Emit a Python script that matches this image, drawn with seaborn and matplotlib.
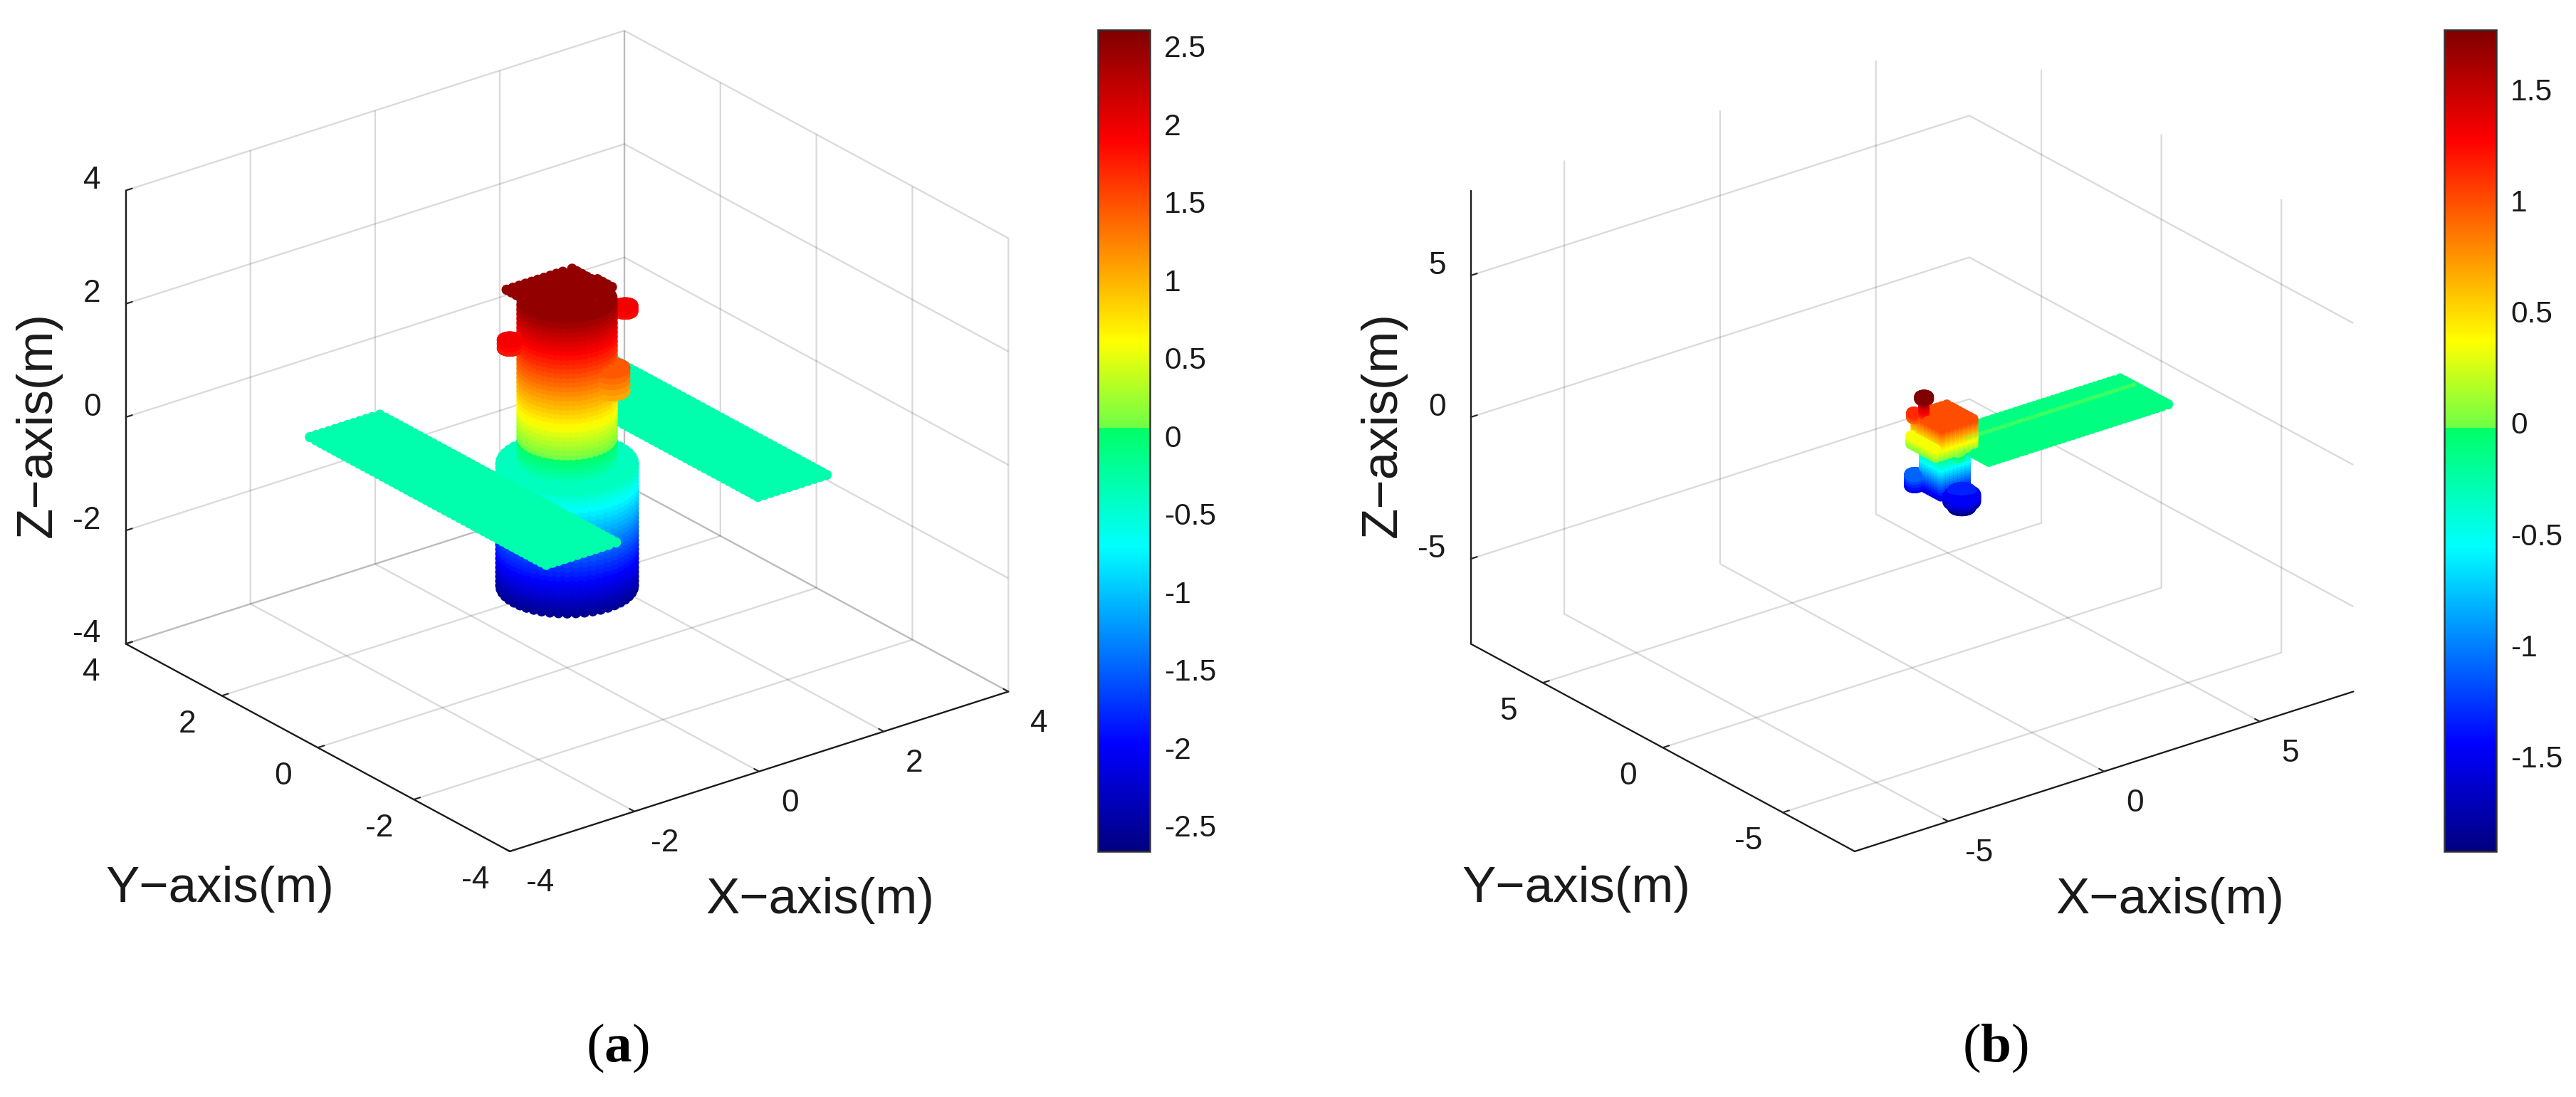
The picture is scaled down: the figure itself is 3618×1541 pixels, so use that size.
import numpy as np
import matplotlib

matplotlib.use("Agg")
import matplotlib.pyplot as plt
import seaborn as sns
from matplotlib.cm import ScalarMappable
from matplotlib.colors import LinearSegmentedColormap, Normalize
from mpl_toolkits.mplot3d import proj3d

# colorbar: jet-like map with the step near the middle
CMAP_POS = [0.0, 0.13, 0.371, 0.516, 0.5161, 0.622, 0.744, 0.866, 1.0]
CMAP_COL = ["#000080", "#0000ff", "#00ffff", "#00ff64", "#6eff46", "#ffff00", "#ff8000", "#ff0000", "#800000"]

A_LIMS = (-4, 4)
A_TICKS = [-4, -2, 0, 2, 4]
A_TICKLABELS = ["-4", "-2", "0", "2", "4"]
A_CLIM = (-2.665, 2.605)
A_CTICKS = [-2.5, -2, -1.5, -1, -0.5, 0, 0.5, 1, 1.5, 2, 2.5]
A_CLABELS = ["-2.5", "-2", "-1.5", "-1", "-0.5", "0", "0.5", "1", "1.5", "2", "2.5"]

B_LIMS = (-8, 8)
B_TICKS = [-5, 0, 5]
B_TICKLABELS = ["-5", "0", "5"]
B_CLIM = (-1.926, 1.766)
B_CTICKS = [-1.5, -1, -0.5, 0, 0.5, 1, 1.5]
B_CLABELS = ["-1.5", "-1", "-0.5", "0", "0.5", "1", "1.5"]

RING_X = [1.0, 0.991, 0.966, 0.924, 0.866, 0.793, 0.707, 0.609, 0.5, 0.383, 0.259, 0.131,
          0.0, -0.131, -0.259, -0.383, -0.5, -0.609, -0.707, -0.793, -0.866, -0.924, -0.966, -0.991,
          -1.0, -0.991, -0.966, -0.924, -0.866, -0.793, -0.707, -0.609, -0.5, -0.383, -0.259, -0.131,
          0.0, 0.131, 0.259, 0.383, 0.5, 0.609, 0.707, 0.793, 0.866, 0.924, 0.966, 0.991]
RING_Y = [0.0, 0.131, 0.259, 0.383, 0.5, 0.609, 0.707, 0.793, 0.866, 0.924, 0.966, 0.991,
          1.0, 0.991, 0.966, 0.924, 0.866, 0.793, 0.707, 0.609, 0.5, 0.383, 0.259, 0.131,
          0.0, -0.131, -0.259, -0.383, -0.5, -0.609, -0.707, -0.793, -0.866, -0.924, -0.966, -0.991,
          -1.0, -0.991, -0.966, -0.924, -0.866, -0.793, -0.707, -0.609, -0.5, -0.383, -0.259, -0.131]
A_UPPER_R = [0.58]
A_UPPER_Z = [-0.4, -0.32, -0.24, -0.16, -0.08, 0.0, 0.08, 0.16, 0.24, 0.32, 0.4, 0.48, 0.56, 0.64, 0.72,
             0.8, 0.88, 0.96, 1.04, 1.12, 1.2, 1.28, 1.36, 1.44, 1.52, 1.6, 1.68, 1.76, 1.84, 1.92,
             2.0, 2.08, 2.16, 2.24, 2.32, 2.4, 2.5]
A_LOWER_R = [0.85]
A_LOWER_Z = [-2.55, -2.47, -2.39, -2.31, -2.23, -2.15, -2.07, -1.99, -1.91, -1.83, -1.75, -1.67, -1.59,
             -1.51, -1.43, -1.35, -1.27, -1.19, -1.11, -1.03, -0.95, -0.87, -0.79, -0.71, -0.63, -0.55,
             -0.47, -0.4]
A_TOP_R = [0.15, 0.3, 0.45]
A_TOP_Z = [2.5]
A_SHELF_R = [0.45, 0.6, 0.72]
A_SHELF_Z = [-0.4]

# (a) solar panels
A_NEAR_X = [-2.2, -2.1, -2.0, -1.9, -1.8, -1.7, -1.6, -1.5, -1.4, -1.3, -1.2, -1.08]
A_FAR_X = [1.2, 1.3, 1.4, 1.5, 1.6, 1.7, 1.8, 1.9, 2.0, 2.1, 2.2, 2.3]
A_PANEL_Y = [-2.42, -2.32, -2.22, -2.12, -2.02, -1.92, -1.82, -1.72, -1.62, -1.52, -1.42, -1.32, -1.22,
             -1.12, -1.02, -0.92, -0.82, -0.72, -0.62, -0.52, -0.42, -0.32, -0.22, -0.12, -0.02, 0.08,
             0.18, 0.28, 0.38, 0.48, 0.58, 0.68, 0.78, 0.88, 0.98, 1.08, 1.18, 1.28, 1.38, 1.48, 1.58,
             1.68, 1.78, 1.88, 1.98, 2.08, 2.18, 2.28, 2.38, 2.5]
A_PANEL_Z = [-0.3]

# (a) top plate and small lumps
A_PLATE1_X = [-0.43, -0.33, -0.23, -0.13, -0.03, 0.07, 0.17, 0.27, 0.37, 0.47, 0.62]
A_PLATE1_Y = [0.2, 0.3, 0.4, 0.5, 0.6, 0.7]
A_PLATE2_X = [0.2, 0.3, 0.4, 0.5, 0.6, 0.68]
A_PLATE2_Y = [-0.05, 0.05, 0.15, 0.25]
A_PLATE_Z = [2.5]
A_LUMP1_C = (-0.75, 0.22)
A_LUMP1_R = [0.05, 0.1]
A_LUMP1_Z = [1.8, 1.88, 1.95]
A_LUMP2_C = (1.05, 0.15)
A_LUMP2_R = [0.05, 0.1]
A_LUMP2_Z = [1.85, 1.9, 1.95]
A_LUMP3_C = (0.28, -0.57)
A_LUMP3_R = [0.08, 0.17]
A_LUMP3_Z = [1.05, 1.15, 1.25, 1.35, 1.45]

# (b) panel
B_PANEL_X = [0.9, 1.05, 1.2, 1.35, 1.5, 1.65, 1.8, 1.95, 2.1, 2.25, 2.4, 2.55, 2.7, 2.85, 3.0, 3.15, 3.3,
             3.45, 3.6, 3.75, 3.9, 4.05, 4.2, 4.35, 4.5, 4.65, 4.8, 4.95, 5.1, 5.25, 5.4, 5.55, 5.7, 5.85,
             6.0, 6.15, 6.3, 6.45, 6.65]
B_PANEL_Y = [-2.03, -1.88, -1.73, -1.58, -1.43, -1.28, -1.13, -0.98, -0.83, -0.68, -0.53, -0.38, -0.23, -0.04]
B_PANEL_Z = [-0.12]
B_SPINE_X = [1.2, 1.32, 1.44, 1.56, 1.68, 1.8, 1.92, 2.04, 2.16, 2.28, 2.4, 2.52, 2.64, 2.76, 2.88, 3.0,
             3.12, 3.24, 3.36, 3.48, 3.6, 3.72, 3.84, 3.96, 4.08, 4.2, 4.32, 4.44, 4.56, 4.68, 4.8, 4.92,
             5.04, 5.16, 5.28, 5.4, 5.52, 5.64, 5.76, 5.88, 6.0, 6.12, 6.24, 6.36, 6.48, 6.55]
B_SPINE_Y = [-0.75]
B_SPINE_Z = [0.03]

# (b) body parts, each a small stack
B_BOX_X = [0.0, 0.14, 0.28, 0.42, 0.56, 0.7, 0.84, 1.0]
B_BOX_Y = [-1.25, -1.1, -0.95, -0.8, -0.65, -0.5, -0.35, -0.15]
B_BOX_Z = [0.37, 0.45, 0.53, 0.61, 0.69, 0.77, 0.85, 0.93, 1.0]
B_COLLAR_X = [-0.2, -0.05, 0.1, 0.25, 0.4, 0.55, 0.7, 0.85, 1.0]
B_COLLAR_Y = [-1.25, -1.1, -0.95, -0.8, -0.65, -0.5, -0.35, -0.2]
B_COLLAR_Z = [0.05, 0.13, 0.21, 0.29, 0.35]
B_MID_X = [0.15, 0.28, 0.41, 0.54, 0.67, 0.8, 0.95]
B_MID_Y = [-1.0, -0.88, -0.76, -0.64, -0.52, -0.4, -0.3]
B_MID_Z = [-1.55, -1.45, -1.35, -1.25, -1.15, -1.05, -0.95, -0.85, -0.75, -0.65, -0.55, -0.45, -0.35,
           -0.25, -0.15, -0.05]
B_LOBE_C = (-0.03, -0.15)
B_LOBE_R = [0.06, 0.14]
B_LOBE_Z = [-1.5, -1.4, -1.3, -1.2, -1.1]
B_BLOB_C = (0.54, -1.37)
B_BLOB_R = [0.12, 0.24, 0.36]
B_BLOB_Z = [-1.7, -1.62, -1.54, -1.46]
B_BLOB_LOW_R = [0.1, 0.24]
B_BLOB_LOW_Z = [-1.9, -1.82, -1.76]
B_BLOB_TOP_R = [0.1, 0.25]
B_BLOB_TOP_Z = [-1.4, -1.33]
B_BUMP_C = (0.55, -1.2)
B_BUMP_R = [0.07]
B_BUMP_Z = [-0.2, -0.1, 0.0]
B_STEM_C = (0.03, -0.46)
B_STEM_R = [0.01]
B_STEM_Z = [1.0, 1.08, 1.16, 1.24, 1.32, 1.4, 1.48, 1.56, 1.62]
B_HEAD_R = [0.05, 0.12]
B_HEAD_Z = [1.68, 1.72, 1.76]
B_EAR_C = (-0.1, -0.2)
B_EAR_R = [0.06]
B_EAR_Z = [0.95, 1.05, 1.12]

W, H = 3618, 1541
# shared view read from the box corners
VIEW_ELEV, VIEW_AZIM = 24.6, -127.6
BOX_ASPECT = (884, 884, 700.6)
AX_SIDE = 1391
AX_BOTTOM = 207.2
AX_LEFT_A, AX_LEFT_B = 82.2, 1971.2
BLACK = "#1a1a1a"
TICK_SIZE = 10.6
MARKER_S = 12


def block(xs, ys, zs):
    gx, gy, gz = np.meshgrid(xs, ys, zs)
    return gx.ravel(), gy.ravel(), gz.ravel()


def rings(radii, zs, center=(0.0, 0.0)):
    gr, gz = np.meshgrid(radii, zs)
    px = np.outer(gr.ravel(), RING_X).ravel() + center[0]
    py = np.outer(gr.ravel(), RING_Y).ravel() + center[1]
    return px, py, np.repeat(gz.ravel(), len(RING_X))


def merge(parts):
    return [np.concatenate([p[i] for p in parts]) for i in range(3)]


def px_rect(left, bottom, width, height):
    return [left / W, bottom / H, width / W, height / H]


def tick_text(ax, x, y, z, text, ha="center"):
    # project by hand so the label is a plain 2D text in the axes
    px, py, _ = proj3d.proj_transform(x, y, z, ax.get_proj())
    ax.text2D(px, py, text, transform=ax.transData, fontsize=TICK_SIZE, ha=ha, va="center", color=BLACK)


def draw_panel(fig, left, lims, ticks, ticklabels, cloud, clim, cmap):
    ax = fig.add_axes(px_rect(left, AX_BOTTOM, AX_SIDE, AX_SIDE), projection="3d", proj_type="ortho")
    ax.computed_zorder = False
    ax.patch.set_alpha(0)
    norm = Normalize(*clim)
    x, y, z = cloud
    ax.scatter(x, y, z, c=z, cmap=cmap, norm=norm, s=MARKER_S, linewidths=0, depthshade=False, zorder=3)
    ax.set_box_aspect(BOX_ASPECT)
    ax.view_init(elev=VIEW_ELEV, azim=VIEW_AZIM)
    ax.set_xlim(*lims, view_margin=0)
    ax.set_ylim(*lims, view_margin=0)
    ax.set_zlim(*lims, view_margin=0)
    for axis in (ax.xaxis, ax.yaxis, ax.zaxis):
        axis.set_ticks(ticks)
        axis.set_ticklabels([])
        axis.pane.set_facecolor((1, 1, 1, 0))
        axis.pane.set_edgecolor((1, 1, 1, 0))
        axis.line.set_color(BLACK)
        axis.line.set_linewidth(0.55)
        # translucent so that lines lying on the box edges come out darker
        axis._axinfo["grid"].update(color=(0.1, 0.1, 0.1, 0.16), linewidth=0.55, linestyle="-")
        axis._axinfo["tick"].update(inward_factor=0.0, outward_factor=0.16, color=BLACK,
                                    linewidth={True: 0.5, False: 0.5})

    # tick labels sit where the reference has them, off the box edges
    k = lims[1] / 4
    for t, s in zip(ticks, ticklabels):
        tick_text(ax, t, -4.637 * k, -4.273 * k, s)
        tick_text(ax, -4.554 * k, t, -4.314 * k, s)
        tick_text(ax, -4 * k, 4.519 * k, t - 0.063 * k, s, ha="right")
    return ax, norm


def draw_colorbar(fig, left, width, norm, cmap, ticks, labels):
    cax = fig.add_axes(px_rect(left, H - 1196, width, 1196 - 42))
    cb = fig.colorbar(ScalarMappable(norm=norm, cmap=cmap), cax=cax)
    cb.set_ticks(ticks)
    cb.set_ticklabels(labels)
    cb.ax.tick_params(direction="in", length=2.8, width=0.5, labelsize=TICK_SIZE - 0.4, pad=4.8,
                      colors=BLACK, right=True, left=False)
    cb.outline.set_edgecolor("#333333")
    cb.outline.set_linewidth(0.6)
    return cb


def label_px(fig, x, y, text, rotation=0, size=17):
    fig.text(x / W, 1 - y / H, text, fontsize=size, ha="center", va="center", rotation=rotation, color=BLACK)


sns.set_theme(style="white")
plt.rcParams["font.family"] = ["Liberation Sans", "DejaVu Sans"]
plt.rcParams["axes.unicode_minus"] = False
plt.rcParams["mathtext.fontset"] = "custom"
plt.rcParams["mathtext.rm"] = "Liberation Serif"
plt.rcParams["mathtext.bf"] = "Liberation Serif:bold"

cmap = LinearSegmentedColormap.from_list("jet_step", list(zip(CMAP_POS, CMAP_COL)), N=512)

cloud_a = merge([
    rings(A_UPPER_R, A_UPPER_Z),
    rings(A_LOWER_R, A_LOWER_Z),
    rings(A_TOP_R, A_TOP_Z),
    rings(A_SHELF_R, A_SHELF_Z),
    block(A_NEAR_X, A_PANEL_Y, A_PANEL_Z),
    block(A_FAR_X, A_PANEL_Y, A_PANEL_Z),
    block(A_PLATE1_X, A_PLATE1_Y, A_PLATE_Z),
    block(A_PLATE2_X, A_PLATE2_Y, A_PLATE_Z),
    rings(A_LUMP1_R, A_LUMP1_Z, A_LUMP1_C),
    rings(A_LUMP2_R, A_LUMP2_Z, A_LUMP2_C),
    rings(A_LUMP3_R, A_LUMP3_Z, A_LUMP3_C),
])
cloud_b = merge([
    block(B_PANEL_X, B_PANEL_Y, B_PANEL_Z),
    block(B_BOX_X, B_BOX_Y, B_BOX_Z),
    block(B_COLLAR_X, B_COLLAR_Y, B_COLLAR_Z),
    block(B_MID_X, B_MID_Y, B_MID_Z),
    rings(B_LOBE_R, B_LOBE_Z, B_LOBE_C),
    rings(B_BLOB_R, B_BLOB_Z, B_BLOB_C),
    rings(B_BLOB_LOW_R, B_BLOB_LOW_Z, B_BLOB_C),
    rings(B_BLOB_TOP_R, B_BLOB_TOP_Z, B_BLOB_C),
    rings(B_BUMP_R, B_BUMP_Z, B_BUMP_C),
    rings(B_STEM_R, B_STEM_Z, B_STEM_C),
    rings(B_HEAD_R, B_HEAD_Z, B_STEM_C),
    rings(B_EAR_R, B_EAR_Z, B_EAR_C),
])

fig = plt.figure(figsize=(W / 300, H / 300), dpi=300, facecolor="white")
ax_a, norm_a = draw_panel(fig, AX_LEFT_A, A_LIMS, A_TICKS, A_TICKLABELS, cloud_a, A_CLIM, cmap)
ax_b, norm_b = draw_panel(fig, AX_LEFT_B, B_LIMS, B_TICKS, B_TICKLABELS, cloud_b, B_CLIM, cmap)

# thin lighter line along the middle of the panel in (b)
sx, sy, sz = block(B_SPINE_X, B_SPINE_Y, B_SPINE_Z)
ax_b.scatter(sx, sy, sz, c=sz, cmap=cmap, norm=norm_b, s=2.2, linewidths=0, alpha=0.45, depthshade=False, zorder=4)
ax_b.set_xlim(*B_LIMS, view_margin=0)
ax_b.set_ylim(*B_LIMS, view_margin=0)
ax_b.set_zlim(*B_LIMS, view_margin=0)

draw_colorbar(fig, 1542, 73, norm_a, cmap, A_CTICKS, A_CLABELS)
draw_colorbar(fig, 3433, 73, norm_b, cmap, B_CTICKS, B_CLABELS)

label_px(fig, 54, 596, "Z\u2212axis(m)", rotation=90)
label_px(fig, 309, 1249, "Y\u2212axis(m)")
label_px(fig, 1152, 1265, "X\u2212axis(m)")
label_px(fig, 1943, 596, "Z\u2212axis(m)", rotation=90)
label_px(fig, 2214, 1249, "Y\u2212axis(m)")
label_px(fig, 3048, 1265, "X\u2212axis(m)")

for xc, letter in ((867, "a"), (2802, "b")):
    fig.text(xc / W, 1 - 1472 / H, rf"($\mathbf{{{letter}}}$)", fontsize=18.5, ha="center", va="center",
             family="Liberation Serif", color="black")

fig.savefig("out.png", dpi=300, facecolor="white")
plt.close(fig)
